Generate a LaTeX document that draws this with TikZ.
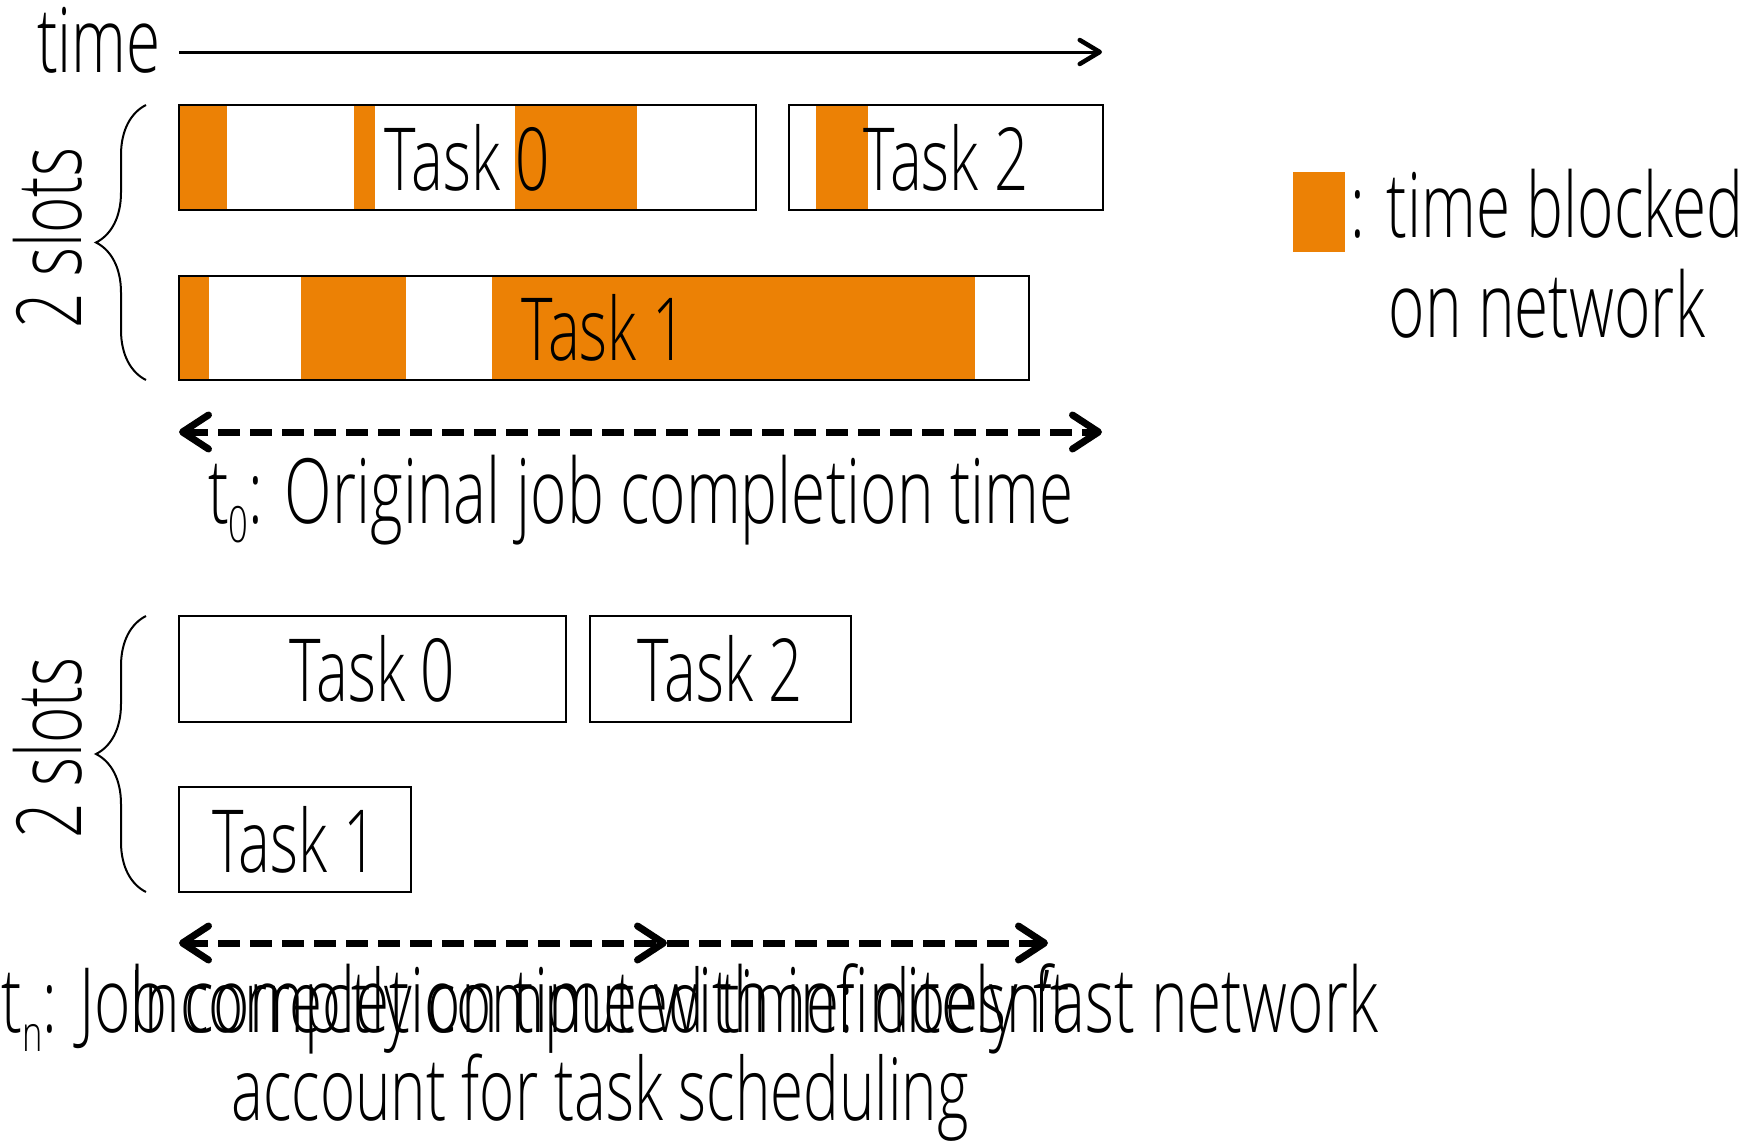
\documentclass[tikz,border=0pt]{standalone}
\usepackage{fontspec}
\setmainfont{Open Sans}[FakeStretch=0.69, UprightFont=* Light]
\usetikzlibrary{arrows.meta,decorations.pathreplacing}
\definecolor{netorange}{RGB}{236,129,5}
\newcommand\lowsub[1]{\raisebox{-19pt}{\fontsize{50}{50}\selectfont #1}}
\tikzset{
  spantip/.tip={Straight Barb[length=26pt,width=34pt,round,line width=7pt]},
  axistip/.tip={Straight Barb[length=20pt,width=24pt,round,line width=4.5pt]}
}
\begin{document}
\begin{tikzpicture}[x=1pt,y=-1pt,
  every node/.style={inner sep=0pt, outer sep=0pt, font=\fontsize{90}{100}\selectfont},
  taskbox/.style={draw=black, line width=2pt, anchor=north west,
                  font=\fontsize{87}{100}\selectfont},
  note/.style={anchor=base, font=\fontsize{87}{100}\selectfont},
  blocked/.style={fill=netorange},
  timeaxis/.style={line width=3pt, -axistip},
  span/.style={line width=7pt, dash pattern=on 22pt off 10pt},
  slotbrace/.style={line width=2pt, decorate, decoration={brace, amplitude=50pt}},
  slotlabel/.style={rotate=90, anchor=center}]

\useasboundingbox (0,0) rectangle (1756,1143);
\fill[white] (0,0) rectangle (1756,1143);

% time axis
\node[anchor=base] (timelab) at (99,72) {time};
\coordinate (ts) at (179,52);
\coordinate (te) at (1102,52);
\draw[timeaxis] (ts) -- (te);

% ---- schedule with network blocking ----
% blocked intervals, Task 0
\fill[blocked] (179,105) rectangle (227,210);
\fill[blocked] (354,105) rectangle (375,210);
\fill[blocked] (515,105) rectangle (637,210);
% blocked intervals, Task 2
\fill[blocked] (816,105) rectangle (868,210);
% blocked intervals, Task 1
\fill[blocked] (179,276) rectangle (209,380);
\fill[blocked] (301,276) rectangle (406,380);
\fill[blocked] (492,276) rectangle (975,380);

\node[taskbox, minimum width=577pt, minimum height=105pt] (a0) at (179,105) {Task 0};
\node[taskbox, minimum width=314pt, minimum height=105pt] (a2) at (789,105) {Task 2};
\node[taskbox, minimum width=850pt, minimum height=104pt] (a1) at (179,276) {Task 1};

\coordinate (abr1) at (146,380);
\coordinate (abr2) at (146,105);
\draw[slotbrace] (abr1) -- (abr2);
\node[slotlabel] (aslots) at (48,238) {2 slots};

\coordinate (os) at (179,432);
\coordinate (oe) at (1102,432);
\draw[span, spantip-spantip] (os) -- (oe);
\node[anchor=base] (olab) at (641,523) {t\lowsub{0}: Original job completion time};

% legend
\fill[blocked] (1293,172) rectangle (1345,252);
\coordinate (legsq) at (1319,212);
\node[anchor=base] (leg1) at (1547,237) {: time blocked};
\node[anchor=base] (leg2) at (1547,337) {on network};

% ---- schedule with an infinitely fast network ----
\node[taskbox, minimum width=387pt, minimum height=106pt] (b0) at (179,616) {Task 0};
\node[taskbox, minimum width=261pt, minimum height=106pt] (b2) at (590,616) {Task 2};
\node[taskbox, minimum width=232pt, minimum height=105pt] (b1) at (179,787) {Task 1};

\coordinate (bbr1) at (146,892);
\coordinate (bbr2) at (146,616);
\draw[slotbrace] (bbr1) -- (bbr2);
\node[slotlabel] (bslots) at (48,748) {2 slots};

\coordinate (ns) at (179,943);
\coordinate (nm) at (667,943);
\coordinate (ne) at (1048,943);
\draw[span, spantip-spantip] (ns) -- (nm);
\draw[span, -spantip] (nm) -- (ne);

\node[anchor=base] (nlab) at (690,1032) {t\lowsub{n}: Job completion time with infinitely fast network};
\node[note] (inc1) at (600,1032) {Incorrectly computed time: doesn't};
\node[note] (inc2) at (600,1120) {account for task scheduling};
\end{tikzpicture}
\end{document}
